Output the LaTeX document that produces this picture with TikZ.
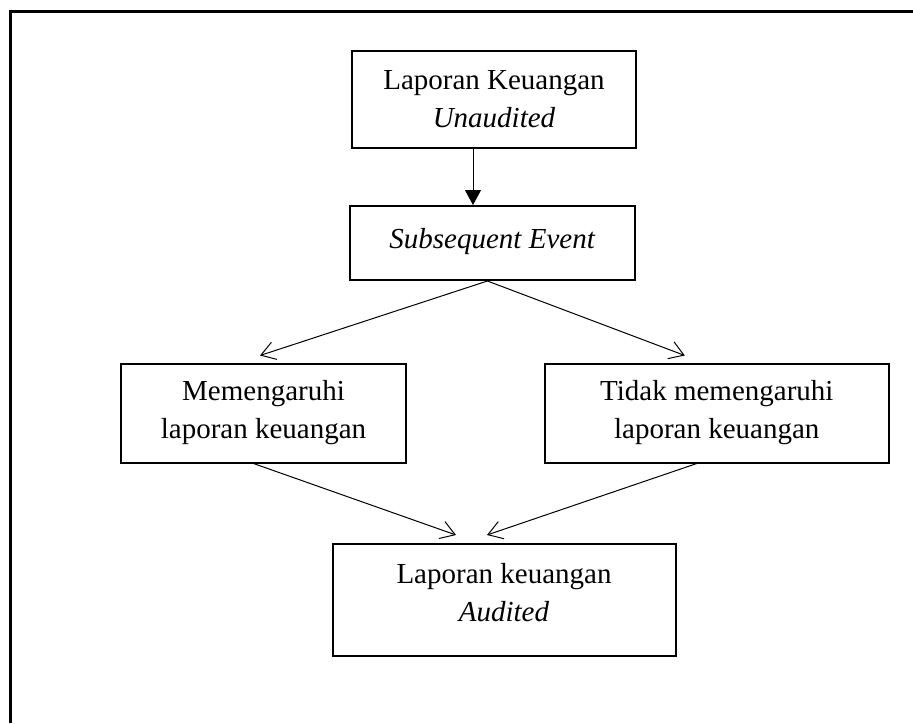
\documentclass[tikz,border=0pt]{standalone}
\usepackage{fontspec}
\setmainfont{Liberation Serif}
\usetikzlibrary{arrows.meta}
\begin{document}
\begin{tikzpicture}[x=1pt,y=-1pt,
  box/.style={draw,line width=2pt,rectangle,inner sep=0pt,align=center,
    font=\fontsize{29}{38}\selectfont},
  conn/.style={line width=1pt},
  filledhead/.style={conn,-{Triangle[length=15pt,width=16pt]}},
  openhead/.style={conn,-{Straight Barb[length=14pt,width=18pt,line width=1pt]}}]
\useasboundingbox (0,0) rectangle (913,723);
\fill[white] (0,0) rectangle (913,723);
\draw[line width=3pt] (10,723) -- (10,11) -- (913,11);
\node[box,minimum width=284pt,minimum height=97pt] (top) at (494,99) {Laporan Keuangan\\\textit{Unaudited}};
\node[box,minimum width=285pt,minimum height=74pt] (sub) at (492.4,243) {\textit{Subsequent Event}\rule[-10pt]{0pt}{10pt}};
\node[box,minimum width=285pt,minimum height=99pt] (left) at (263.5,413) {Memengaruhi\\laporan keuangan};
\node[box,minimum width=344pt,minimum height=99pt] (right) at (716.8,413) {Tidak memengaruhi\\laporan keuangan};
\node[box,minimum width=343pt,minimum height=112pt] (bot) at (504,600) {Laporan keuangan\\\textit{Audited}\rule[-16pt]{0pt}{16pt}};
\draw[filledhead] ([xshift=-21pt]top.south) -- ([xshift=-21pt]top.south |- sub.north);
\draw[openhead] ([xshift=-5pt]sub.south) -- ([xshift=-3.5pt,yshift=7pt]left.north);
\draw[openhead] ([xshift=-5pt]sub.south) -- ([xshift=-32pt,yshift=7pt]right.north);
\draw[openhead] ([xshift=-10pt]left.south) -- ([xshift=-48pt,yshift=8pt]bot.north);
\draw[openhead] ([xshift=-20pt]right.south) -- ([xshift=-17pt,yshift=8pt]bot.north);
\end{tikzpicture}
\end{document}
